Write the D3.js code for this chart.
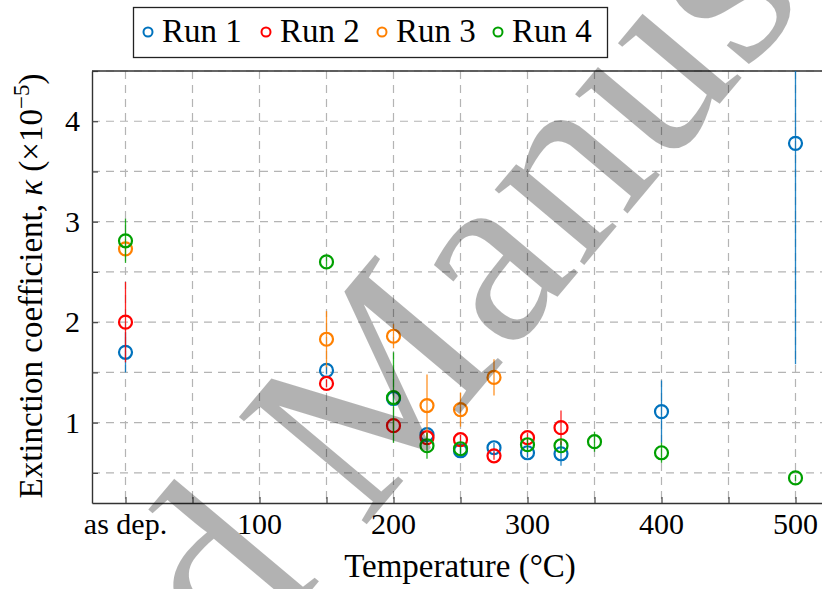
<!DOCTYPE html>
<html>
<head>
<meta charset="utf-8">
<script src="https://cdn.jsdelivr.net/npm/d3@7"></script>
</head>
<body style="margin:0">
<svg id="chart" width="822" height="589" font-family="Liberation Serif"></svg>
<script>
// extinction coefficient vs anneal temperature, 4 runs (x=0 is "as dep.")
var seriesNames = ["Run 1", "Run 2", "Run 3", "Run 4"];
var seriesColors = ["#0072bd", "#ff0000", "#ff8000", "#00a000"];

var temps1 = [0, 150, 200, 225, 250, 275, 300, 325, 400, 500];
var kappa1 = [1.70, 1.52, 1.24, 0.88, 0.72, 0.75, 0.70, 0.69, 1.11, 3.78];
var err1   = [0.20, 0.04, 0.05, 0.05, 0.06, 0.05, 0.05, 0.12, 0.31, 2.20];

var temps2 = [0, 150, 200, 225, 250, 275, 300, 325];
var kappa2 = [2.00, 1.39, 0.97, 0.85, 0.83, 0.67, 0.85, 0.95];
var err2   = [0.40, 0.04, 0.05, 0.05, 0.05, 0.04, 0.05, 0.17];

var temps3 = [0, 150, 200, 225, 250, 275];
var kappa3 = [2.73, 1.83, 1.86, 1.17, 1.13, 1.45];
var err3   = [0.05, 0.28, 0.12, 0.31, 0.17, 0.18];

var temps4 = [0, 150, 200, 225, 250, 300, 325, 350, 400, 500];
var kappa4 = [2.81, 2.60, 1.25, 0.77, 0.74, 0.78, 0.77, 0.81, 0.70, 0.45];
var err4   = [0.22, 0.05, 0.45, 0.13, 0.05, 0.05, 0.05, 0.10, 0.10, 0.03];

var xTickVals = [0, 100, 200, 300, 400, 500];
var xTickLabels = ["as dep.", "100", "200", "300", "400", "500"];
var yTickVals = [1, 2, 3, 4];

var runs = [
  { t: temps1, k: kappa1, e: err1 },
  { t: temps2, k: kappa2, e: err2 },
  { t: temps3, k: kappa3, e: err3 },
  { t: temps4, k: kappa4, e: err4 },
].map((r, i) => ({
  name: seriesNames[i],
  color: seriesColors[i],
  pts: r.t.map((t, j) => ({ t, k: r.k[j], e: r.e[j] }))
}));

var FACE = "Liberation Serif";
var svg = d3.select("#chart");
// careful: "top" is taken by window.top
var plotL = 92, plotT = 71, plotB = 503;

var x = d3.scaleLinear().domain([-25, 525]).range([plotL, plotL + 550 * 1.34]);
var y = d3.scaleLinear().domain([0.2, 4.5]).range([plotB, plotT]);
var plotR = x.range()[1];

svg.append("defs").append("clipPath").attr("id", "plotclip")
  .append("rect").attr("x", plotL).attr("y", plotT)
  .attr("width", plotR - plotL).attr("height", plotB - plotT);

// dashed grid
var grid = svg.append("g").attr("stroke", "#b4b4b4").attr("stroke-width", 1.2)
  .attr("stroke-dasharray", "8,6");
grid.selectAll("line.gx").data(d3.range(0, 501, 50)).enter().append("line")
  .attr("x1", d => x(d)).attr("x2", d => x(d))
  .attr("y1", plotT).attr("y2", plotB);
grid.selectAll("line.gy").data(d3.range(0.5, 4.51, 0.5)).enter().append("line")
  .attr("x1", plotL).attr("x2", plotR)
  .attr("y1", d => y(d)).attr("y2", d => y(d));

// axes (ticks pointing inward), labels drawn separately below
var xAxis = svg.append("g").attr("transform", `translate(0,${plotB})`)
  .call(d3.axisBottom(x).tickValues(d3.range(0, 501, 50)).tickSizeInner(-6).tickSizeOuter(0).tickFormat(""));
var yAxis = svg.append("g").attr("transform", `translate(${plotL},0)`)
  .call(d3.axisLeft(y).tickValues(d3.range(0.5, 4.51, 0.5)).tickSizeInner(-6).tickSizeOuter(0).tickFormat(""));
[xAxis, yAxis].forEach(a => {
  a.attr("font-family", null);
  a.select(".domain").attr("stroke", "#333").attr("stroke-width", 1.4);
  a.selectAll(".tick line").attr("stroke", "#444").attr("stroke-width", 1.2);
  a.selectAll(".tick text").remove();
});
svg.append("line").attr("x1", plotL).attr("x2", plotR).attr("y1", plotT).attr("y2", plotT)
  .attr("stroke", "#333").attr("stroke-width", 1.4);

// tick labels
svg.selectAll("text.xt").data(xTickVals).enter().append("text")
  .attr("class", "xt").attr("font-family", FACE)
  .attr("x", d => x(d)).attr("y", 534)
  .attr("text-anchor", "middle").attr("font-size", 30)
  .text((d, i) => xTickLabels[i]);
svg.selectAll("text.yt").data(yTickVals).enter().append("text")
  .attr("class", "yt").attr("font-family", FACE)
  .attr("x", 80).attr("y", d => y(d) + 10)
  .attr("text-anchor", "end").attr("font-size", 30)
  .text(d => d);

// axis titles
svg.append("text").attr("font-family", FACE)
  .attr("x", 460).attr("y", 577).attr("text-anchor", "middle")
  .attr("font-size", 33).text("Temperature (\u00b0C)");
var ylab = svg.append("text").attr("font-family", FACE)
  .attr("transform", "translate(42,286) rotate(-90)")
  .attr("text-anchor", "middle").attr("font-size", 33);
ylab.append("tspan").text("Extinction coefficient, ");
ylab.append("tspan").attr("font-style", "italic").text("\u03ba");
ylab.append("tspan").text(" (\u00d710");
ylab.append("tspan").attr("dy", -13).attr("font-size", 23).text("\u22125");
ylab.append("tspan").attr("dy", 13).text(")");

// data: error bars then markers, run by run
var plot = svg.append("g").attr("clip-path", "url(#plotclip)");
runs.forEach(r => {
  var g = plot.append("g");
  g.selectAll("line").data(r.pts).enter().append("line")
    .attr("x1", d => x(d.t)).attr("x2", d => x(d.t))
    .attr("y1", d => y(d.k - d.e)).attr("y2", d => y(d.k + d.e))
    .attr("stroke", r.color).attr("stroke-width", 1.3).attr("opacity", 0.85);
  g.selectAll("circle").data(r.pts).enter().append("circle")
    .attr("cx", d => x(d.t)).attr("cy", d => y(d.k)).attr("r", 6.5)
    .attr("fill", "none").attr("stroke", r.color).attr("stroke-width", 2.2);
});

// legend
var lg = svg.append("g");
lg.append("rect").attr("x", 133.5).attr("y", 7.5).attr("width", 474).attr("height", 50)
  .attr("fill", "#fff").attr("stroke", "#222").attr("stroke-width", 1.3);
var legX = [148, 266, 382, 498];
runs.forEach((r, i) => {
  lg.append("circle").attr("cx", legX[i]).attr("cy", 32).attr("r", 4.5)
    .attr("fill", "none").attr("stroke", r.color).attr("stroke-width", 2);
  lg.append("text").attr("font-family", FACE)
    .attr("x", legX[i] + 14).attr("y", 42).attr("font-size", 33)
    .text(r.name);
});

// "Accepted Manuscript" watermark over everything
var wm = svg.append("g").attr("transform", "translate(362,530) rotate(-50)")
  .attr("fill", "#000").attr("fill-opacity", 0.3).attr("font-size", 255);
wm.append("text").attr("font-family", FACE).attr("text-anchor", "end").text("Accepted\u00a0");
wm.append("text").attr("font-family", FACE).attr("text-anchor", "start").text("Manuscript");
</script>
</body>
</html>
